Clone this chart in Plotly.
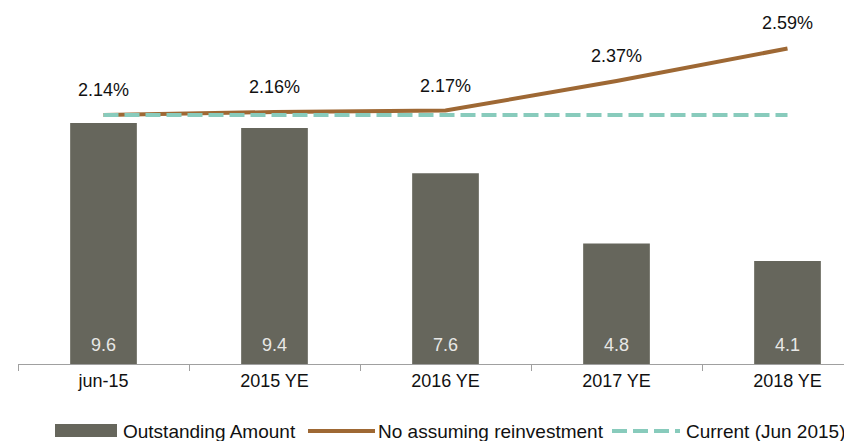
import plotly.graph_objects as go

# ---- data ----
categories = ["jun-15", "2015 YE", "2016 YE", "2017 YE", "2018 YE"]
outstanding = [9.6, 9.4, 7.6, 4.8, 4.1]
no_reinvest = [2.14, 2.16, 2.17, 2.37, 2.59]
current = [2.14, 2.14, 2.14, 2.14, 2.14]
legend_names = ["Outstanding Amount", "No assuming reinvestment", "Current (Jun 2015)"]

BAR = "#66665C"
BROWN = "#9E6834"
TEAL = "#88CBBC"
FONT = "Liberation Sans, Arial, sans-serif"

OFF = 8  # page body margin offset
W, H = 852 - OFF, 441 - OFF
AXIS_Y_REF = 364  # reference pixel of the x axis line
ML, MR, MT = 18 - OFF, 0, 10 - OFF
MB = H - (AXIS_Y_REF - OFF)
PW, PH = W - ML - MR, H - MT - MB
CAT_PX = 171.0
Y1_PX = 25.1
Y2_PX = 147.8

fig = go.Figure()
fig.add_trace(go.Bar(x=categories, y=outstanding, marker=dict(color=BAR, line=dict(width=0)),
                     width=0.39, name=legend_names[0], showlegend=False, hoverinfo="skip"))
fig.add_trace(go.Scatter(x=categories, y=no_reinvest, yaxis="y2", mode="lines",
                         line=dict(color=BROWN, width=4), name=legend_names[1], showlegend=False))
fig.add_trace(go.Scatter(x=categories, y=current, yaxis="y2", mode="lines",
                         line=dict(color=TEAL, width=4, dash="15px,6px"), name=legend_names[2], showlegend=False))

annotations = []
for c, v in zip(categories, outstanding):
    annotations.append(dict(x=c, y=0, xref="x", yref="y", text=f"{v:.1f}", showarrow=False,
                            yanchor="middle", yshift=19, font=dict(size=18, color="#E8E8E6", family=FONT)))
for c, v in zip(categories, no_reinvest):
    annotations.append(dict(x=c, y=v, xref="x", yref="y2", text=f"{v:.2f}%", showarrow=False,
                            yanchor="middle", yshift=25, font=dict(size=18, color="#111111", family=FONT)))

def px_x(p):
    return (p - OFF - ML) / PW

def px_y(p):
    return (H - MB - (p - OFF)) / PH

shapes = []
LY = 431
shapes.append(dict(type="rect", xref="paper", yref="paper", x0=px_x(55), x1=px_x(117),
                   y0=px_y(437), y1=px_y(424), fillcolor=BAR, line=dict(width=0)))
shapes.append(dict(type="line", xref="paper", yref="paper", x0=px_x(308), x1=px_x(375),
                   y0=px_y(LY), y1=px_y(LY), line=dict(color=BROWN, width=4)))
shapes.append(dict(type="line", xref="paper", yref="paper", x0=px_x(612), x1=px_x(680),
                   y0=px_y(LY), y1=px_y(LY), line=dict(color=TEAL, width=4, dash="15px,6px")))
for name, lx in zip(legend_names, [121, 376, 684]):
    annotations.append(dict(x=px_x(lx), y=px_y(LY), xref="paper", yref="paper", text=name,
                            showarrow=False, xanchor="left", yanchor="middle",
                            font=dict(size=19, color="#111111", family=FONT)))

LINE_Y_REF = 115  # reference pixel of the 2.14% level
y2_bottom = 2.14 - (AXIS_Y_REF - LINE_Y_REF) / Y2_PX
y2_top = 2.14 + (LINE_Y_REF - 10) / Y2_PX

fig.update_layout(
    width=W, height=H,
    margin=dict(l=ML, r=MR, t=MT, b=MB),
    paper_bgcolor="white", plot_bgcolor="white",
    showlegend=False,
    font=dict(family=FONT, color="#111111"),
    xaxis=dict(range=[-0.5, -0.5 + PW / CAT_PX], showgrid=False, zeroline=False,
               showline=True, linecolor="#A0A0A0", linewidth=1,
               ticks="outside", tickson="boundaries", ticklen=6, tickcolor="#A0A0A0",
               tickfont=dict(size=18, color="#111111", family=FONT)),
    yaxis=dict(range=[0, PH / Y1_PX], visible=False, showgrid=False, zeroline=False),
    yaxis2=dict(range=[y2_bottom, y2_top], overlaying="y", visible=False, showgrid=False, zeroline=False),
    annotations=annotations,
    shapes=shapes,
)

fig.write_html("out.html")
